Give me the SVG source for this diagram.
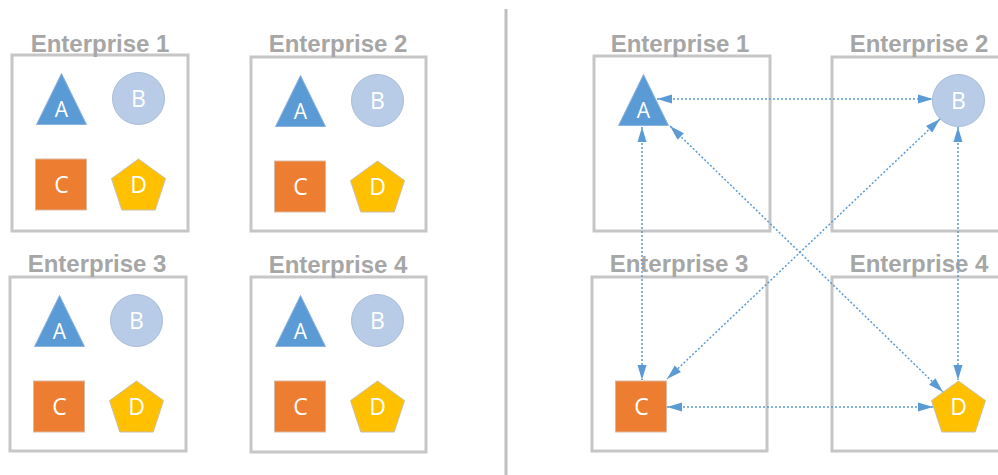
<svg xmlns="http://www.w3.org/2000/svg" xmlns:xlink="http://www.w3.org/1999/xlink" width="998" height="475" viewBox="0 0 998 475">
<style>
.box{fill:#ffffff;stroke:#c6c6c6;stroke-width:3}
.title{font-family:"Liberation Sans",Arial,sans-serif;font-weight:bold;font-size:24px;fill:#a6a6a6;text-anchor:middle}
.lbl{font-family:"Open Sans","Liberation Sans",Arial,sans-serif;font-size:23px;fill:#ffffff;text-anchor:middle}
.a{fill:#5b9bd5;stroke:#8db3e0;stroke-width:1}
.b{fill:#b8cce8;stroke:#a9bcd6;stroke-width:1}
.c{fill:#ed7d31;stroke:#d9b9a3;stroke-width:1}
.d{fill:#ffc000;stroke:#c8c0a8;stroke-width:1}
.conn{fill:none;stroke:#5b9bd5;stroke-width:1.5;stroke-dasharray:2 2}
</style>
<defs>
<marker id="arr" markerUnits="userSpaceOnUse" markerWidth="15" markerHeight="10" refX="15" refY="5" orient="auto-start-reverse" viewBox="0 0 15 10">
<path d="M0,0.5 L15,5 L0,9.5 z" fill="#5b9bd5"/>
</marker>
<g id="shA"><polygon class="a" points="49.5,18.5 74.5,69.5 24.5,69.5"/><text class="lbl" x="49.5" y="62" style="font-size:21px">A</text></g>
<g id="shB"><circle class="b" cx="126.5" cy="43.5" r="26"/><text class="lbl" x="126.5" y="52">B</text></g>
<g id="shC"><rect class="c" x="23.5" y="104" width="51" height="51"/><text class="lbl" x="49.5" y="138">C</text></g>
<g id="shD"><polygon class="d" points="126.5,104 153.5,123.6 143.2,155 109.8,155 99.5,123.6"/><text class="lbl" x="126.5" y="138">D</text></g>
</defs>

<line x1="506" y1="9" x2="506" y2="475" stroke="#bfbfbf" stroke-width="3"/>

<g id="left-enterprise-1" transform="translate(12,55)">
<rect class="box" x="0" y="0" width="176" height="176"/>
<text class="title" x="88" y="-3">Enterprise 1</text>
<g id="l1-A"><use xlink:href="#shA"/></g>
<g id="l1-B"><use xlink:href="#shB"/></g>
<g id="l1-C"><use xlink:href="#shC"/></g>
<g id="l1-D"><use xlink:href="#shD"/></g>
</g>
<g id="left-enterprise-2" transform="translate(251,57)">
<rect class="box" x="0" y="0" width="175" height="174"/>
<text class="title" x="87" y="-5">Enterprise 2</text>
<g id="l2-A"><use xlink:href="#shA"/></g>
<g id="l2-B"><use xlink:href="#shB"/></g>
<g id="l2-C"><use xlink:href="#shC"/></g>
<g id="l2-D"><use xlink:href="#shD"/></g>
</g>
<g id="left-enterprise-3" transform="translate(10,277)">
<rect class="box" x="0" y="0" width="176" height="174"/>
<text class="title" x="87" y="-5">Enterprise 3</text>
<g id="l3-A"><use xlink:href="#shA"/></g>
<g id="l3-B"><use xlink:href="#shB"/></g>
<g id="l3-C"><use xlink:href="#shC"/></g>
<g id="l3-D"><use xlink:href="#shD"/></g>
</g>
<g id="left-enterprise-4" transform="translate(251,277)">
<rect class="box" x="0" y="0" width="175" height="175"/>
<text class="title" x="87" y="-4">Enterprise 4</text>
<g id="l4-A"><use xlink:href="#shA"/></g>
<g id="l4-B"><use xlink:href="#shB"/></g>
<g id="l4-C"><use xlink:href="#shC"/></g>
<g id="l4-D"><use xlink:href="#shD"/></g>
</g>

<g id="right-enterprise-1" transform="translate(594,56)">
<rect class="box" x="0" y="0" width="176" height="175"/>
<text class="title" x="86" y="-4">Enterprise 1</text>
<g id="r-A"><use xlink:href="#shA"/></g>
</g>
<g id="right-enterprise-2" transform="translate(832,57)">
<rect class="box" x="0" y="0" width="176" height="174"/>
<text class="title" x="87" y="-5">Enterprise 2</text>
<g id="r-B"><use xlink:href="#shB"/></g>
</g>
<g id="right-enterprise-3" transform="translate(592,277)">
<rect class="box" x="0" y="0" width="175" height="174"/>
<text class="title" x="87" y="-5">Enterprise 3</text>
<g id="r-C"><use xlink:href="#shC"/></g>
</g>
<g id="right-enterprise-4" transform="translate(832,277)">
<rect class="box" x="0" y="0" width="176" height="174"/>
<text class="title" x="87" y="-5">Enterprise 4</text>
<g id="r-D"><use xlink:href="#shD"/></g>
</g>

<g id="connectors">
<line class="conn" x1="657" y1="99" x2="933" y2="99" marker-start="url(#arr)" marker-end="url(#arr)"/>
<line class="conn" x1="642" y1="127" x2="642" y2="380" marker-start="url(#arr)" marker-end="url(#arr)"/>
<line class="conn" x1="958" y1="127" x2="958" y2="380" marker-start="url(#arr)" marker-end="url(#arr)"/>
<line class="conn" x1="667" y1="407" x2="933" y2="407" marker-start="url(#arr)" marker-end="url(#arr)"/>
<line class="conn" x1="670" y1="126" x2="943" y2="392" marker-start="url(#arr)" marker-end="url(#arr)"/>
<line class="conn" x1="940" y1="119" x2="667" y2="379" marker-start="url(#arr)" marker-end="url(#arr)"/>
</g>
</svg>
